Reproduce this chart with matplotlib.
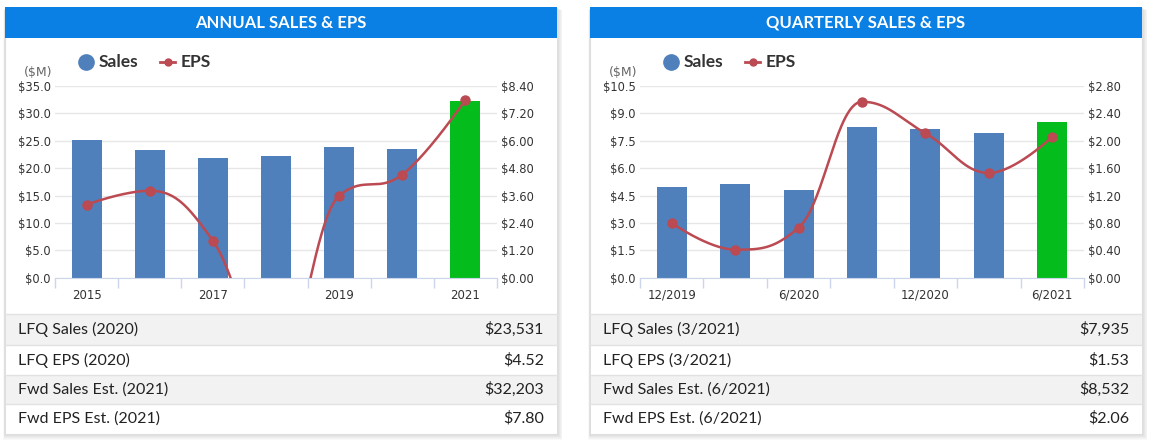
import numpy as np
import matplotlib
matplotlib.use("Agg")
import matplotlib.pyplot as plt
from matplotlib.patches import Rectangle
from matplotlib.lines import Line2D

W, H = 1153, 447

# ---- data ----
annual_labels = ["2015", "2016", "2017", "2018", "2019", "2020", "2021"]
annual_sales = [25.2, 23.3, 21.9, 22.3, 23.9, 23.531, 32.203]
annual_eps = [3.20, 3.81, 1.62, -4.0, 3.59, 4.52, 7.80]
annual_rows = [("LFQ Sales (2020)", "$23,531"), ("LFQ EPS (2020)", "$4.52"),
               ("Fwd Sales Est. (2021)", "$32,203"), ("Fwd EPS Est. (2021)", "$7.80")]

quarter_labels = ["12/2019", "3/2020", "6/2020", "9/2020", "12/2020", "3/2021", "6/2021"]
quarter_sales = [4.97, 5.13, 4.80, 8.25, 8.14, 7.935, 8.532]
quarter_eps = [0.80, 0.41, 0.73, 2.57, 2.11, 1.53, 2.06]
quarter_rows = [("LFQ Sales (3/2021)", "$7,935"), ("LFQ EPS (3/2021)", "$1.53"),
                ("Fwd Sales Est. (6/2021)", "$8,532"), ("Fwd EPS Est. (6/2021)", "$2.06")]

BLUE = "#4f80bc"
GREEN = "#04bc1c"
RED = "#bb4a52"
HEAD = "#0a7fe4"
TXT = "#333333"


def fx(x):
    return x / W


def fy(y):
    return 1 - y / H


def spline(xs, ys, n=60):
    # highcharts style spline (smoothing 1.5)
    k = 1.5
    pts = list(zip(xs, ys))
    lc = [None] * len(pts)
    rc = [None] * len(pts)
    for i in range(1, len(pts) - 1):
        px, py = pts[i]
        lx, ly = pts[i - 1]
        nx, ny = pts[i + 1]
        lcx = (k * px + lx) / (k + 1)
        lcy = (k * py + ly) / (k + 1)
        rcx = (k * px + nx) / (k + 1)
        rcy = (k * py + ny) / (k + 1)
        corr = (rcy - lcy) * (rcx - px) / (rcx - lcx) + py - rcy
        lcy += corr
        rcy += corr
        if lcy > ly and lcy > py:
            lcy = max(ly, py); rcy = 2 * py - lcy
        elif lcy < ly and lcy < py:
            lcy = min(ly, py); rcy = 2 * py - lcy
        if rcy > ny and rcy > py:
            rcy = max(ny, py); lcy = 2 * py - rcy
        elif rcy < ny and rcy < py:
            rcy = min(ny, py); lcy = 2 * py - rcy
        lc[i] = (lcx, lcy)
        rc[i] = (rcx, rcy)
    t = np.linspace(0, 1, n)[:, None]
    out = []
    for i in range(1, len(pts)):
        p0 = np.array(pts[i - 1])
        c1 = np.array(rc[i - 1] if rc[i - 1] else pts[i - 1])
        c2 = np.array(lc[i] if lc[i] else pts[i])
        p3 = np.array(pts[i])
        seg = (1 - t) ** 3 * p0 + 3 * (1 - t) ** 2 * t * c1 + 3 * (1 - t) * t ** 2 * c2 + t ** 3 * p3
        out.append(seg)
    out = np.vstack(out)
    return out[:, 0], out[:, 1]


fig = plt.figure(figsize=(W / 100, H / 100), dpi=100)
fig.patch.set_facecolor("white")


def panel(off, title, labels, sales, eps, smax, sstep, emax, estep, rows, xl, xr):
    x0, x1 = 5 + off, 557 + off
    # soft shadow
    for s in range(1, 7):
        fig.add_artist(Rectangle((fx(x0 - s * 0.3), fy(434 + s)), fx(x1 - x0 + s * 1.2), (434 + s - 8 - s * 0.3) / H,
                                 transform=fig.transFigure, facecolor="#000000", alpha=0.025,
                                 edgecolor="none", zorder=0))
    fig.add_artist(Rectangle((fx(x0), fy(434)), fx(x1 - x0), (434 - 7.5) / H, transform=fig.transFigure,
                             facecolor="white", edgecolor="#dedede", lw=0.8, zorder=0.5))
    fig.add_artist(Rectangle((fx(x0), fy(37.5)), fx(x1 - x0), 30 / H, transform=fig.transFigure,
                             facecolor=HEAD, edgecolor="none", zorder=1))
    fig.text(fx((x0 + x1) / 2), fy(22.5), title, color="white", fontsize=12, fontweight="bold",
             family="Lato", ha="center", va="center", zorder=2)

    # table
    edges = [314, 345, 375, 404, 433]
    for i, (name, val) in enumerate(rows):
        top, bot = edges[i], edges[i + 1]
        fc = "#f2f2f2" if i % 2 == 0 else "white"
        fig.add_artist(Rectangle((fx(x0 + 0.5), fy(bot)), fx(x1 - x0 - 1), (bot - top) / H,
                                 transform=fig.transFigure, facecolor=fc, edgecolor="none", zorder=1))
        fig.add_artist(Line2D([fx(x0), fx(x1)], [fy(top), fy(top)], transform=fig.transFigure,
                              color="#e2e2e2", lw=1, zorder=1.5))
        yc = (top + bot) / 2
        fig.text(fx(x0 + 13), fy(yc), name, fontsize=11.5, family="Lato", color="#222222",
                 ha="left", va="center", zorder=2)
        fig.text(fx(x1 - 13), fy(yc), val, fontsize=11.5, family="Lato", color="#222222",
                 ha="right", va="center", zorder=2)

    # legend
    fig.add_artist(Line2D([fx(86 + off)], [fy(62)], transform=fig.transFigure, marker="o", ms=11,
                          color=BLUE, lw=0, zorder=2))
    fig.text(fx(99 + off), fy(62), "Sales", fontsize=12.5, fontweight="bold", family="Lato",
             color=TXT, ha="left", va="center", zorder=2)
    fig.add_artist(Line2D([fx(160 + off), fx(175 + off)], [fy(62), fy(62)], transform=fig.transFigure,
                          color=RED, lw=2, zorder=2))
    fig.add_artist(Line2D([fx(167.5 + off)], [fy(62)], transform=fig.transFigure, marker="o", ms=5,
                          color=RED, lw=0, zorder=2))
    fig.text(fx(181 + off), fy(62), "EPS", fontsize=12.5, fontweight="bold", family="Lato",
             color=TXT, ha="left", va="center", zorder=2)
    fig.text(fx(52 + off), fy(72), "($M)", fontsize=9, color="#666666", ha="right", va="center", zorder=2)

    # chart
    ax = fig.add_axes([fx(xl), fy(277.7), fx(xr - xl), (277.7 - 86) / H])
    ax.set_zorder(5)
    ax.patch.set_visible(False)
    n = len(labels)
    xs = np.arange(n)
    colors = [BLUE] * (n - 1) + [GREEN]
    ax.bar(xs, sales, width=0.475, color=colors, zorder=2)
    ax.set_xlim(-0.5, n - 0.5)
    ax.set_ylim(0, smax)
    ax.set_yticks(np.arange(0, smax + 0.001, sstep))
    ax.set_yticklabels(["$%.1f" % v for v in np.arange(0, smax + 0.001, sstep)])
    ax.yaxis.grid(True, color="#e6e6e6", lw=1, zorder=0)
    ax.set_axisbelow(True)
    for s in ["top", "left", "right"]:
        ax.spines[s].set_visible(False)
    ax.spines["bottom"].set_color("#ccd6eb")
    ax.spines["bottom"].set_zorder(3)
    ax.set_xticks(np.arange(-0.5, n, 1.0))
    ax.set_xticklabels([])
    ax.set_xticks(xs, minor=True)
    ax.set_xticklabels([lab if i % 2 == 0 else "" for i, lab in enumerate(labels)], minor=True)
    ax.tick_params(axis="x", which="major", length=7, color="#ccd6eb", width=1)
    ax.tick_params(axis="x", which="minor", length=0, pad=8, labelsize=8.5, labelcolor=TXT)
    ax.tick_params(axis="y", length=0, pad=3, labelsize=8.3, labelcolor=TXT)

    ax2 = ax.twinx()
    ax2.set_zorder(6)
    ax2.patch.set_visible(False)
    ax2.set_ylim(0, emax)
    ax2.set_yticks(np.arange(0, emax + 0.001, estep))
    ax2.set_yticklabels(["$%.2f" % v for v in np.arange(0, emax + 0.001, estep)])
    ax2.tick_params(axis="y", length=0, pad=3, labelsize=8.3, labelcolor=TXT)
    for s in ax2.spines.values():
        s.set_visible(False)
    sx, sy = spline(xs, eps)
    ax2.plot(sx, sy, color=RED, lw=1.8, zorder=3, solid_capstyle="round")
    ax2.plot(xs, eps, "o", color=RED, ms=6.5, zorder=4)


panel(0, "ANNUAL SALES & EPS", annual_labels, annual_sales, annual_eps, 35, 5, 8.4, 1.2,
      annual_rows, 55, 497)
panel(585, "QUARTERLY SALES & EPS", quarter_labels, quarter_sales, quarter_eps, 10.5, 1.5, 2.8, 0.4,
      quarter_rows, 640, 1084)

fig.savefig("out.png", dpi=100, facecolor="white")
